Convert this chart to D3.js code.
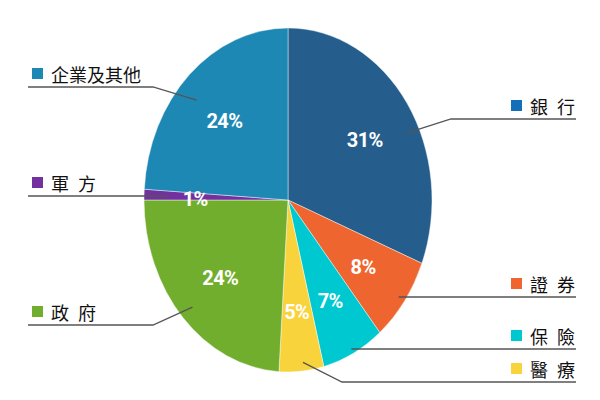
<!DOCTYPE html>
<html>
<head>
<meta charset="utf-8">
<script src="https://cdn.jsdelivr.net/npm/d3@7"></script>
<style>
  html, body { margin: 0; padding: 0; background: #fff; }
  svg { display: block; }
</style>
</head>
<body>
<div id="chart"></div>
<script>
const width = 600
const height = 400

// data, clockwise from 12 o'clock
const categories = ["銀 行", "證 券", "保 險", "醫 療", "政 府", "軍 方", "企業及其他"]
const shares = [31, 8, 7, 5, 24, 1, 24]
const sliceColors = ["#255d8c", "#ee6530", "#00c8d0", "#f8d33c", "#72ae2e", "#7331a0", "#1e88b5"]
const legendColors = ["#1170b8", "#ee6530", "#00c8d0", "#f8d33c", "#72ae2e", "#7331a0", "#1e88b5"]

// legend / leader layout
const legendSide = ["right", "right", "right", "right", "left", "left", "left"]
const legendY = [106, 284, 336, 369, 312, 183, 74]
const elbowX = [451, null, null, 342, 153, null, 153]
const leaderPos = [0.58, 0.5, 0.5, 0.45, 0.5, 0.5, 0.45]   // fraction along slice angle
const leaderR = [0.91, 0.95, 0.97, 0.95, 0.91, 0.84, 0.86]

const cx = 288, cy = 200, rx = 144, ry = 172

const data = categories.map((c, i) => ({ name: c, value: shares[i], i: i }))

const svg = d3.select("div#chart").append("svg").attr("width", width).attr("height", height)

const pie = d3.pie().value(d => d.value).sort(null)
const arcs = pie(data)

const arc = d3.arc().innerRadius(0).outerRadius(rx)

// pie is an ellipse: draw a circle and stretch it vertically
const pieGroup = svg.append("g").attr("transform", `translate(${cx}, ${cy}) scale(1, ${ry / rx})`)
pieGroup.selectAll("path").data(arcs).enter()
  .append("path")
  .attr("d", arc)
  .attr("fill", d => sliceColors[d.data.i])
  .attr("stroke", "#fff")
  .attr("stroke-width", 0.4)

const pt = (angle, f) => [cx + f * rx * Math.sin(angle), cy - f * ry * Math.cos(angle)]

// leader lines
const lineGroup = svg.append("g")
arcs.forEach(d => {
  const i = d.data.i
  const a = d.startAngle + (d.endAngle - d.startAngle) * leaderPos[i]
  const p = pt(a, leaderR[i])
  const ly = legendY[i] + 13
  const outerX = legendSide[i] === "right" ? 576 : 28
  let pts
  if (elbowX[i] == null) pts = [[p[0], ly], [outerX, ly]]
  else pts = [p, [elbowX[i], ly], [outerX, ly]]
  lineGroup.append("path")
    .attr("d", d3.line()(pts))
    .attr("fill", "none")
    .attr("stroke", "#555")
    .attr("stroke-width", 1.3)
})

// percentage labels
svg.append("g").selectAll("text").data(arcs).enter()
  .append("text")
  .attr("x", d => pt((d.startAngle + d.endAngle) / 2, 0.645)[0])
  .attr("y", d => pt((d.startAngle + d.endAngle) / 2, 0.645)[1] + 9)
  .attr("text-anchor", "middle")
  .attr("fill", "#fff")
  .attr("font-family", "Roboto, sans-serif")
  .attr("font-weight", "bold")
  .attr("font-size", 20)
  .attr("letter-spacing", -0.6)
  .text(d => d.data.value + "%")

// legend
const legend = svg.append("g").selectAll("g").data(data).enter()
  .append("g")
  .attr("transform", d => `translate(${legendSide[d.i] === "right" ? 511 : 32}, ${legendY[d.i]})`)

legend.append("rect")
  .attr("x", 0).attr("y", -6)
  .attr("width", 11).attr("height", 11)
  .attr("fill", d => legendColors[d.i])

legend.append("text")
  .attr("x", 19).attr("y", 0)
  .attr("dominant-baseline", "central")
  .attr("fill", "#111")
  .attr("font-family", "'Noto Sans CJK TC', sans-serif")
  .attr("font-size", 18)
  .attr("letter-spacing", d => d.name.includes(" ") ? 2.5 : 0)
  .style("white-space", "pre")
  .text(d => d.name)
</script>
</body>
</html>
